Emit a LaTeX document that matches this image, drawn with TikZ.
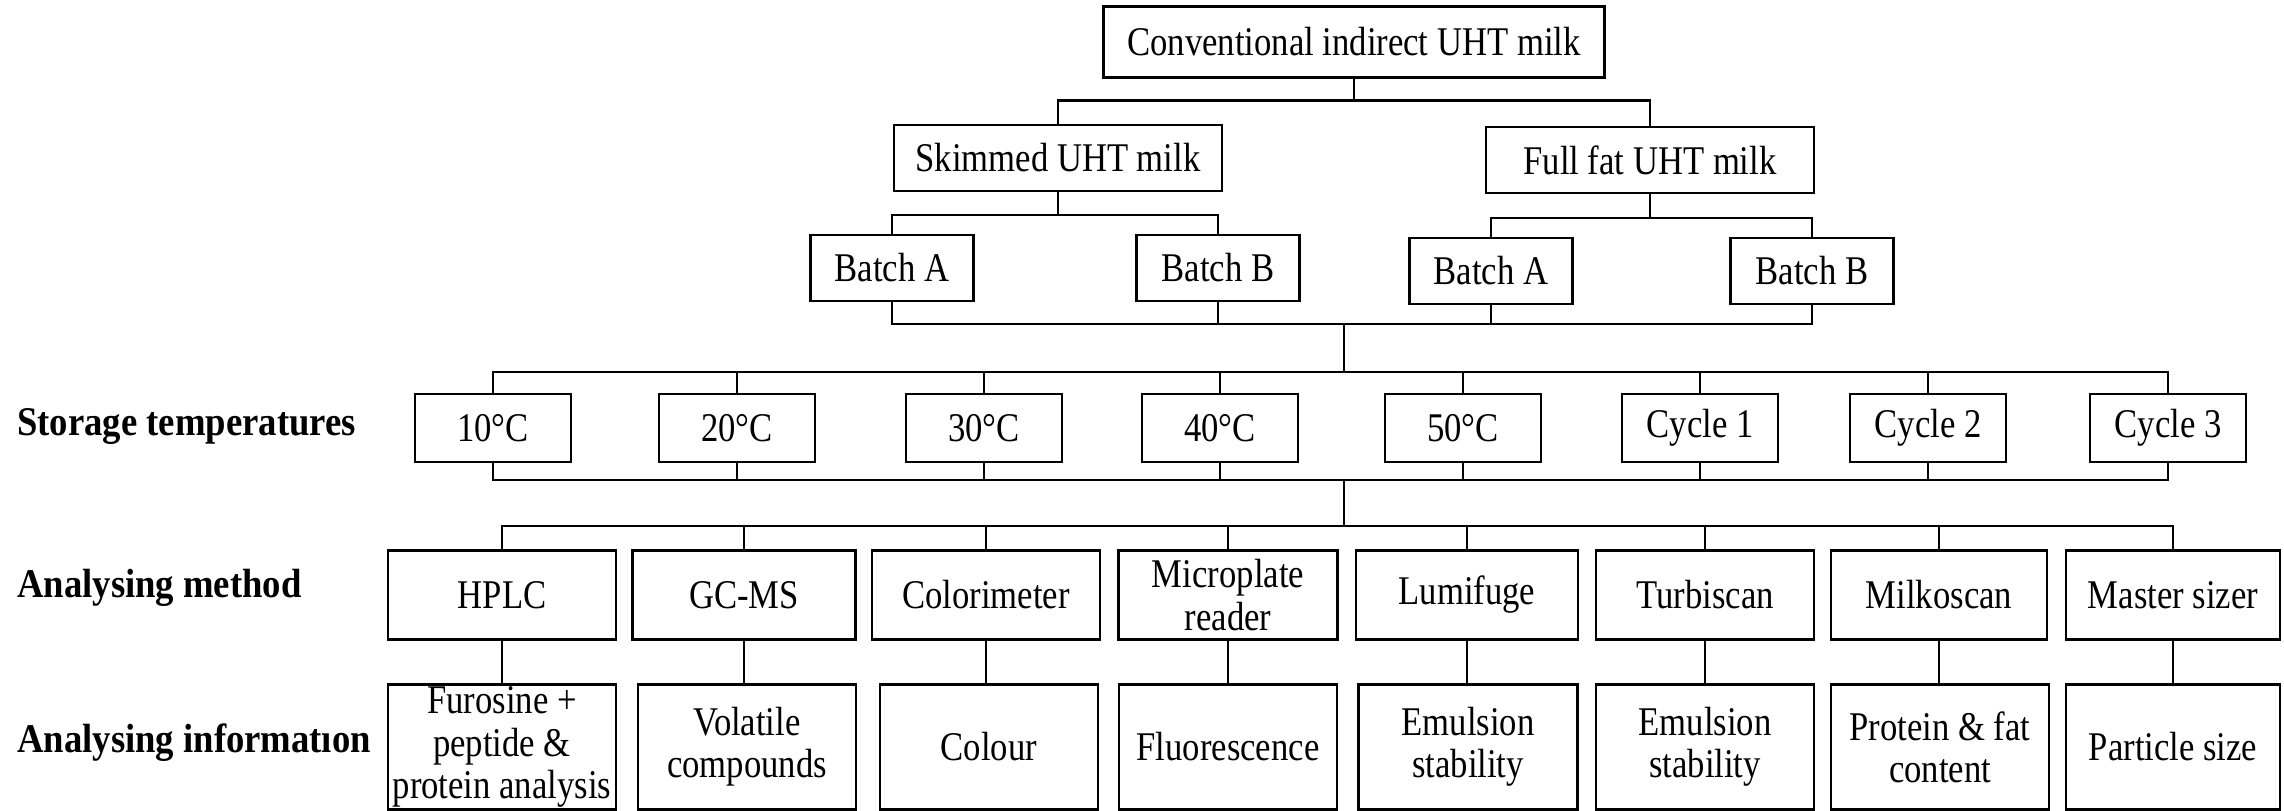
\documentclass[tikz,border=0pt]{standalone}
\usepackage{fontspec}
\setmainfont{Liberation Serif}[FakeStretch=0.85,BoldFeatures={FakeStretch=0.9}]
\usepackage{tikz}

\begin{document}
\begin{tikzpicture}[x=0.1mm,y=-0.1mm,line width=0.7pt,
    box/.style={draw,inner sep=0pt,align=center,font=\fontsize{11.6}{12}\selectfont},
    rowlabel/.style={anchor=west,inner sep=0pt,font=\fontsize{11.6}{12}\selectfont\bfseries}]
  \useasboundingbox (0,0) rectangle (2284,811);
  % milk and batches
  \node[box,minimum width=50.1mm,minimum height=7.1mm] (uht) at (1354,42) {Conventional indirect UHT milk};
  \node[box,minimum width=32.8mm,minimum height=6.6mm] (skim) at (1058,158) {Skimmed UHT milk};
  \node[box,minimum width=32.8mm,minimum height=6.6mm] (full) at (1650,160) {Full fat UHT milk};
  \node[box,minimum width=16.3mm,minimum height=6.6mm] (sa) at (892,268) {Batch A};
  \node[box,minimum width=16.3mm,minimum height=6.6mm] (sb) at (1218,268) {Batch B};
  \node[box,minimum width=16.3mm,minimum height=6.6mm] (fa) at (1491,271) {Batch A};
  \node[box,minimum width=16.3mm,minimum height=6.6mm] (fb) at (1812,271) {Batch B};
  % row labels
  \node[rowlabel] (lbltemp) at (16,427) {Storage temperatures};
  \node[rowlabel] (lblmeth) at (16,588) {Analysing method};
  \node[rowlabel] (lblinfo) at (16,743) {Analysing informatıon};
  % temperatures
  \foreach \x/\t [count=\i] in {493/10°C,737/20°C,984/30°C,1220/40°C,1463/50°C,1700/Cycle 1,1928/Cycle 2,2168/Cycle 3}
    \node[box,minimum width=15.6mm,minimum height=6.8mm] (t\i) at (\x,428) {\t};
  % methods
  \foreach \x/\w/\t [count=\i] in {502/22.8/HPLC,744/22.3/GC-MS,986/22.8/Colorimeter,1228/21.9/{Microplate\\reader},
      1467/22.2/Lumifuge,1705/21.8/Turbiscan,1939/21.6/Milkoscan,2173/21.4/Master sizer}
    \node[box,minimum width=\w mm,minimum height=8.9mm] (m\i) at (\x,595) {\t};
  % information
  \foreach \x/\w/\t [count=\i] in {502/22.8/{Furosine +\\peptide \&\\protein analysis},747/21.8/{Volatile\\compounds},
      989/21.8/Colour,1228/21.8/Fluorescence,1468/21.9/{Emulsion\\stability},1705/21.8/{Emulsion\\stability},
      1940/21.8/{Protein \& fat\\content},2173/21.4/Particle size}
    \node[box,minimum width=\w mm,minimum height=12.5mm] (i\i) at (\x,747) {\t};
  % connectors
  \draw (uht.south) -- ++(0,22) coordinate (j0) (skim.north) |- (j0) -| (full.north);
  \draw (skim.south) -- ++(0,23) coordinate (j1) (sa.north) |- (j1) -| (sb.north);
  \draw (full.south) -- ++(0,24) coordinate (j2) (fa.north) |- (j2) -| (fb.north);
  \draw (sa.south) -- ++(0,22) coordinate (j3) -| (fb.south);
  \draw (sb.south) -- (sb.south |- j3) (fa.south) -- (fa.south |- j3);
  \coordinate (k1) at (1344,323);
  \coordinate (k2) at (1344,372);
  \coordinate (k3) at (1344,480);
  \coordinate (k4) at (1344,526);
  \draw (k1) -- (k2) (k3) -- (k4);
  \draw (t1.north) |- (k2) -| (t8.north);
  \draw (t1.south) |- (k3) -| (t8.south);
  \draw (m1.north) |- (k4) -| (m8.north);
  \foreach \i in {2,...,7} {
    \draw (t\i.north) -- (t\i.north |- k2);
    \draw (t\i.south) -- (t\i.south |- k3);
    \draw (m\i.north) -- (m\i.north |- k4);
  }
  \foreach \i in {1,...,8}
    \draw (m\i.south) -- (m\i.south |- i\i.north);
\end{tikzpicture}
\end{document}
